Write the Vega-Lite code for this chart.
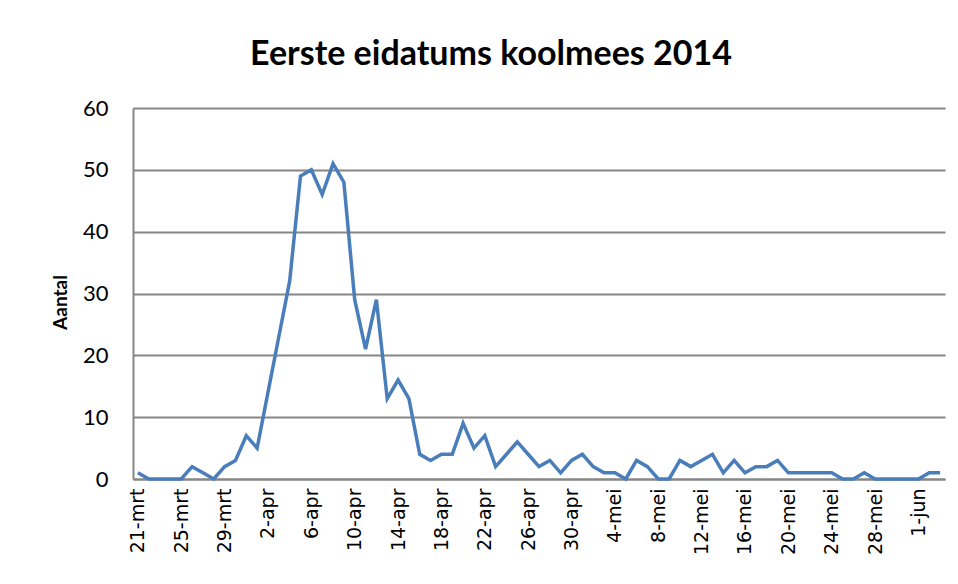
{
  "$schema": "https://vega.github.io/schema/vega-lite/v6.json",
  "autosize": {"type": "none"},
  "padding": {"left": 133, "top": 108, "right": 13, "bottom": 105},
  "width": 812,
  "height": 371,
  "background": "white",
  "title": {
    "text": "Eerste eidatums koolmees 2014",
    "font": "Lato",
    "fontWeight": "bold",
    "fontSize": 34,
    "color": "#000000",
    "anchor": "middle",
    "dx": -48,
    "dy": 44,
    "baseline": "alphabetic",
    "offset": 42
  },
  "data": {
    "values": [
      {"datum": "21-mrt", "aantal": 1},
      {"datum": "22-mrt", "aantal": 0},
      {"datum": "23-mrt", "aantal": 0},
      {"datum": "24-mrt", "aantal": 0},
      {"datum": "25-mrt", "aantal": 0},
      {"datum": "26-mrt", "aantal": 2},
      {"datum": "27-mrt", "aantal": 1},
      {"datum": "28-mrt", "aantal": 0},
      {"datum": "29-mrt", "aantal": 2},
      {"datum": "30-mrt", "aantal": 3},
      {"datum": "31-mrt", "aantal": 7},
      {"datum": "1-apr", "aantal": 5},
      {"datum": "2-apr", "aantal": 14},
      {"datum": "3-apr", "aantal": 23},
      {"datum": "4-apr", "aantal": 32},
      {"datum": "5-apr", "aantal": 49},
      {"datum": "6-apr", "aantal": 50},
      {"datum": "7-apr", "aantal": 46},
      {"datum": "8-apr", "aantal": 51},
      {"datum": "9-apr", "aantal": 48},
      {"datum": "10-apr", "aantal": 29},
      {"datum": "11-apr", "aantal": 21},
      {"datum": "12-apr", "aantal": 29},
      {"datum": "13-apr", "aantal": 13},
      {"datum": "14-apr", "aantal": 16},
      {"datum": "15-apr", "aantal": 13},
      {"datum": "16-apr", "aantal": 4},
      {"datum": "17-apr", "aantal": 3},
      {"datum": "18-apr", "aantal": 4},
      {"datum": "19-apr", "aantal": 4},
      {"datum": "20-apr", "aantal": 9},
      {"datum": "21-apr", "aantal": 5},
      {"datum": "22-apr", "aantal": 7},
      {"datum": "23-apr", "aantal": 2},
      {"datum": "24-apr", "aantal": 4},
      {"datum": "25-apr", "aantal": 6},
      {"datum": "26-apr", "aantal": 4},
      {"datum": "27-apr", "aantal": 2},
      {"datum": "28-apr", "aantal": 3},
      {"datum": "29-apr", "aantal": 1},
      {"datum": "30-apr", "aantal": 3},
      {"datum": "1-mei", "aantal": 4},
      {"datum": "2-mei", "aantal": 2},
      {"datum": "3-mei", "aantal": 1},
      {"datum": "4-mei", "aantal": 1},
      {"datum": "5-mei", "aantal": 0},
      {"datum": "6-mei", "aantal": 3},
      {"datum": "7-mei", "aantal": 2},
      {"datum": "8-mei", "aantal": 0},
      {"datum": "9-mei", "aantal": 0},
      {"datum": "10-mei", "aantal": 3},
      {"datum": "11-mei", "aantal": 2},
      {"datum": "12-mei", "aantal": 3},
      {"datum": "13-mei", "aantal": 4},
      {"datum": "14-mei", "aantal": 1},
      {"datum": "15-mei", "aantal": 3},
      {"datum": "16-mei", "aantal": 1},
      {"datum": "17-mei", "aantal": 2},
      {"datum": "18-mei", "aantal": 2},
      {"datum": "19-mei", "aantal": 3},
      {"datum": "20-mei", "aantal": 1},
      {"datum": "21-mei", "aantal": 1},
      {"datum": "22-mei", "aantal": 1},
      {"datum": "23-mei", "aantal": 1},
      {"datum": "24-mei", "aantal": 1},
      {"datum": "25-mei", "aantal": 0},
      {"datum": "26-mei", "aantal": 0},
      {"datum": "27-mei", "aantal": 1},
      {"datum": "28-mei", "aantal": 0},
      {"datum": "29-mei", "aantal": 0},
      {"datum": "30-mei", "aantal": 0},
      {"datum": "31-mei", "aantal": 0},
      {"datum": "1-jun", "aantal": 0},
      {"datum": "2-jun", "aantal": 1},
      {"datum": "3-jun", "aantal": 1}
    ]
  },
  "mark": {"type": "line", "color": "#4a7ebb", "strokeWidth": 3.5, "strokeJoin": "miter"},
  "encoding": {
    "x": {
      "field": "datum",
      "type": "ordinal",
      "sort": null,
      "scale": {"type": "point", "padding": 0.45},
      "axis": {
        "title": null,
        "values": ["21-mrt", "25-mrt", "29-mrt", "2-apr", "6-apr", "10-apr", "14-apr", "18-apr", "22-apr", "26-apr", "30-apr", "4-mei", "8-mei", "12-mei", "16-mei", "20-mei", "24-mei", "28-mei", "1-jun"],
        "labelAngle": -90,
        "labelAlign": "right",
        "labelBaseline": "middle",
        "labelFont": "DejaVu Sans",
        "labelFontSize": 19,
        "labelColor": "#000000",
        "labelPadding": 9,
        "labelOverlap": false,
        "ticks": false,
        "grid": false,
        "domainColor": "#868686",
        "domainWidth": 2
      }
    },
    "y": {
      "field": "aantal",
      "type": "quantitative",
      "scale": {"domain": [0, 60], "nice": false},
      "axis": {
        "title": "Aantal",
        "titleFont": "Lato",
        "titleFontWeight": "bold",
        "titleFontSize": 19,
        "titleColor": "#000000",
        "titleAngle": -90,
        "titleX": -73,
        "titleY": 194,
        "titleAlign": "center",
        "titleBaseline": "middle",
        "values": [0, 10, 20, 30, 40, 50, 60],
        "labelFont": "Lato",
        "labelFontSize": 22,
        "labelColor": "#000000",
        "labelPadding": 25,
        "ticks": false,
        "grid": true,
        "gridColor": "#868686",
        "gridWidth": 2,
        "domainColor": "#868686",
        "domainWidth": 2
      }
    }
  },
  "config": {
    "view": {"stroke": null}
  }
}
